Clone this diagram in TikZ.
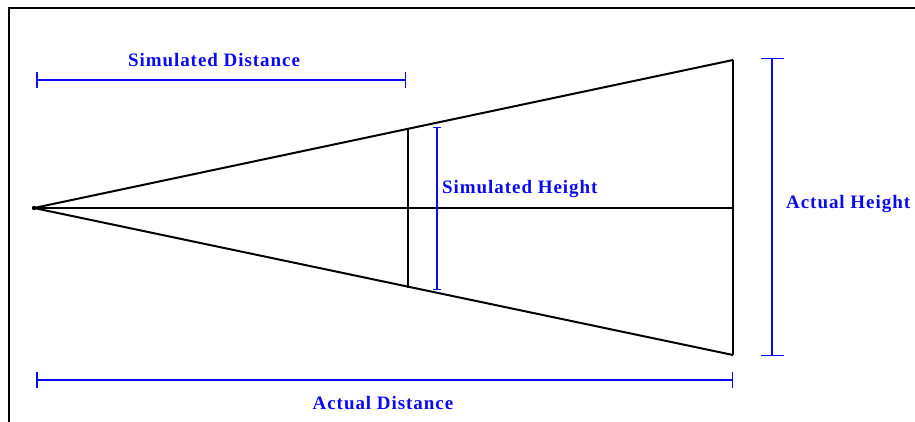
\documentclass[tikz,border=0pt]{standalone}
\usepackage{fontspec}
\setmainfont{Liberation Serif}
\usetikzlibrary{arrows.meta}
\definecolor{dim}{RGB}{10,10,240}

\tikzset{
  ray/.style={black,line width=2pt},
  bar/.style={dim,line width=1.5pt,{Bar[width=16pt]}-{Bar[width=16pt]}},
  lbl/.style={dim,inner sep=0pt,font=\bfseries\fontsize{19}{21}\selectfont\addfontfeature{LetterSpace=5}},
}

\begin{document}
\begin{tikzpicture}[x=1pt,y=-1pt]
  \useasboundingbox (0,0) rectangle (915,422);
  \draw[line width=2.6pt] (9,422) -- (9,8) -- (915,8);

  \coordinate (apex) at (34,208);
  \coordinate (top) at (733,60);
  \coordinate (bot) at (733,355);
  \coordinate (mid) at (733,208);
  \coordinate (stop) at (408,128);
  \coordinate (sbot) at (408,288);

  % the two rays and the axis
  \draw[ray] (apex) -- (top);
  \draw[ray] (apex) -- (bot);
  \draw[line width=1.3pt] (apex) -- (mid);
  \fill (apex) circle (2.2);

  % heights
  \draw[line width=1.4pt] (top) -- (bot);
  \draw[line width=1.4pt] (stop) -- (sbot);

  % dimension bars
  \coordinate (sd1) at (36,80);
  \coordinate (sd2) at (406,80);
  \draw[bar] (sd1) -- (sd2);
  \node[lbl] (sdist) at (214,60) {Simulated Distance};

  \coordinate (ad1) at (36,380);
  \coordinate (ad2) at (733,380);
  \draw[bar] (ad1) -- (ad2);
  \node[lbl] (adist) at (383,403) {Actual Distance};

  \coordinate (sh1) at (437,127);
  \coordinate (sh2) at (437,290);
  \draw[dim,line width=1.2pt,{Bar[width=8pt]}-{Bar[width=8pt]}] (sh1) -- (sh2);
  \node[lbl,anchor=west] (sheight) at (442,189) {Simulated Height};

  \coordinate (ah1) at (772,58);
  \coordinate (ah2) at (772,356);
  \draw[bar,{Bar[width=23pt]}-{Bar[width=23pt]}] (ah1) -- (ah2);
  \node[lbl,anchor=west] (aheight) at (786,204) {Actual Height};
\end{tikzpicture}
\end{document}
